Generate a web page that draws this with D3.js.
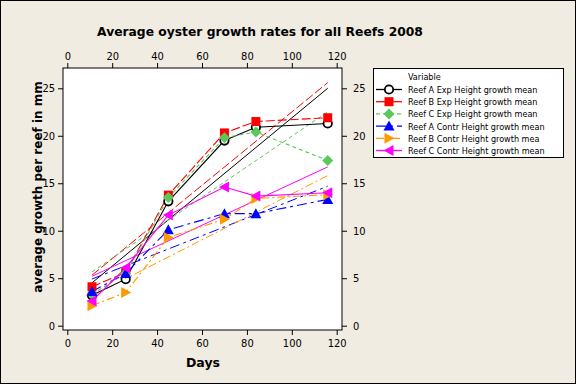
<!DOCTYPE html>
<html>
<head>
<meta charset="utf-8">
<script src="https://cdn.jsdelivr.net/npm/d3@7"></script>
<style>
  body { margin: 0; background: #f0ece2; }
  svg { display: block; }
  .tick text { font-family: "DejaVu Sans Condensed", "DejaVu Sans", sans-serif; font-size: 11px; fill: #000; }
</style>
</head>
<body>
<div id="chart"></div>
<script>
// data
const days = [11, 26, 45, 70, 84, 116];
const seriesNames = [
  "Reef A Exp Height growth mean",
  "Reef B Exp Height growth mean",
  "Reef C Exp Height growth mean",
  "Reef A Contr Height growth mean",
  "Reef B Contr Height growth mea",
  "Reef C Contr Height growth mean"
];
const reefAExp   = [3.2, 4.9, 13.1, 19.5, 20.9, 21.3];
const reefBExp   = [4.1, 5.6, 13.75, 20.3, 21.5, 21.9];
const reefCExp   = [3.3, 5.5, 13.5, 19.8, 20.4, 17.4];
const reefAContr = [3.6, 5.5, 10.1, 11.8, 11.8, 13.3];
const reefBContr = [2.1, 3.5, 9.3, 11.2, 13.4, 13.8];
const reefCContr = [2.6, 6.1, 11.65, 14.6, 13.65, 14.0];
const xTicks = [0, 20, 40, 60, 80, 100, 120];
const yTicks = [0, 5, 10, 15, 20, 25];

const width = 576, height = 384;
const frame = {left: 63, top: 68, right: 342, bottom: 330};

const svg = d3.select("#chart").append("svg")
  .attr("width", width)
  .attr("height", height);

// outer border
svg.append("rect")
  .attr("x", 0.5).attr("y", 0.5)
  .attr("width", width - 1).attr("height", height - 1)
  .attr("fill", "#f0ece2").attr("stroke", "#000");

const xScale = d3.scaleLinear().domain([0, 120]).range([67.3, 336.7]);
const yScale = d3.scaleLinear().domain([0, 25]).range([325.7, 88.3]);

// plot area
svg.append("rect")
  .attr("x", frame.left).attr("y", frame.top)
  .attr("width", frame.right - frame.left)
  .attr("height", frame.bottom - frame.top)
  .attr("fill", "#fff").attr("stroke", "#000");

// axes on all four sides
function styleAxis(g) {
  g.select(".domain").remove();
  g.selectAll(".tick line").attr("stroke", "#000");
}
svg.append("g")
  .attr("transform", `translate(0,${frame.bottom})`)
  .call(d3.axisBottom(xScale).tickValues(xTicks).tickSize(5).tickPadding(4))
  .call(styleAxis);
svg.append("g")
  .attr("transform", `translate(0,${frame.top})`)
  .call(d3.axisTop(xScale).tickValues(xTicks).tickSize(5).tickPadding(3))
  .call(styleAxis);
svg.append("g")
  .attr("transform", `translate(${frame.left},0)`)
  .call(d3.axisLeft(yScale).tickValues(yTicks).tickSize(5).tickPadding(3))
  .call(styleAxis);
svg.append("g")
  .attr("transform", `translate(${frame.right},0)`)
  .call(d3.axisRight(yScale).tickValues(yTicks).tickSize(5).tickPadding(6))
  .call(styleAxis);

const series = [
  {name: seriesNames[0], values: reefAExp,   color: "#000000", dash: null,       marker: "circle"},
  {name: seriesNames[1], values: reefBExp,   color: "#ff0000", dash: "9,3",      marker: "square"},
  {name: seriesNames[2], values: reefCExp,   color: "#5cc85c", dash: "4,3",      marker: "diamond"},
  {name: seriesNames[3], values: reefAContr, color: "#0000ff", dash: "10,4,3,4", marker: "triUp"},
  {name: seriesNames[4], values: reefBContr, color: "#ff9900", dash: "8,3,2,3",  marker: "triRight"},
  {name: seriesNames[5], values: reefCContr, color: "#ff00ff", dash: null,       marker: "triLeft"}
];

// least squares fit of each series
function fit(xs, ys) {
  const mx = d3.mean(xs), my = d3.mean(ys);
  const sxy = d3.sum(xs, (x, i) => (x - mx) * (ys[i] - my));
  const sxx = d3.sum(xs, x => (x - mx) * (x - mx));
  const b = sxy / sxx;
  return x => my + b * (x - mx);
}

const line = d3.line()
  .x(d => xScale(d[0]))
  .y(d => yScale(d[1]));

const plot = svg.append("g");

// fitted lines
series.forEach(s => {
  const f = fit(days, s.values);
  const x0 = d3.min(days), x1 = d3.max(days);
  plot.append("path")
    .attr("d", line([[x0, f(x0)], [x1, f(x1)]]))
    .attr("fill", "none")
    .attr("stroke", s.color)
    .attr("stroke-width", 1)
    .attr("stroke-dasharray", s.dash);
});

// connecting lines
series.forEach(s => {
  plot.append("path")
    .attr("d", line(days.map((d, i) => [d, s.values[i]])))
    .attr("fill", "none")
    .attr("stroke", s.color)
    .attr("stroke-width", 1.1)
    .attr("stroke-dasharray", s.dash);
});

function drawMarker(g, type, color, cx, cy) {
  if (type === "circle") {
    g.append("circle").attr("cx", cx).attr("cy", cy).attr("r", 4.2)
      .attr("fill", "#fff").attr("stroke", color).attr("stroke-width", 1.8);
  } else if (type === "square") {
    g.append("rect").attr("x", cx - 4.5).attr("y", cy - 4.5)
      .attr("width", 9).attr("height", 9).attr("fill", color);
  } else {
    let pts;
    if (type === "diamond") pts = [[0, -5.5], [5.5, 0], [0, 5.5], [-5.5, 0]];
    if (type === "triUp") pts = [[0, -5.5], [5.5, 4.5], [-5.5, 4.5]];
    if (type === "triRight") pts = [[5.5, 0], [-4.5, -5.5], [-4.5, 5.5]];
    if (type === "triLeft") pts = [[-5.5, 0], [4.5, -5.5], [4.5, 5.5]];
    g.append("polygon")
      .attr("points", pts.map(p => [cx + p[0], cy + p[1]].join(",")).join(" "))
      .attr("fill", color);
  }
}

series.forEach(s => {
  days.forEach((d, i) => drawMarker(plot, s.marker, s.color, xScale(d), yScale(s.values[i])));
});

// title and axis labels
svg.append("text")
  .attr("x", 260).attr("y", 36)
  .attr("text-anchor", "middle")
  .style("font-family", "DejaVu Sans, sans-serif")
  .style("font-weight", "bold")
  .style("font-size", "12.3px")
  .text("Average oyster growth rates for all Reefs 2008");

svg.append("text")
  .attr("x", 203).attr("y", 367)
  .attr("text-anchor", "middle")
  .style("font-family", "DejaVu Sans, sans-serif")
  .style("font-weight", "bold")
  .style("font-size", "12.5px")
  .text("Days");

svg.append("text")
  .attr("transform", "rotate(-90)")
  .attr("x", -187).attr("y", 42)
  .attr("text-anchor", "middle")
  .style("font-family", "DejaVu Sans, sans-serif")
  .style("font-weight", "bold")
  .style("font-size", "12px")
  .text("average growth per reef in mm");

// legend
const legend = svg.append("g");
legend.append("rect")
  .attr("x", 373.5).attr("y", 68.5)
  .attr("width", 190).attr("height", 89)
  .attr("fill", "#fff").attr("stroke", "#000");
const legendFont = "DejaVu Sans Condensed, DejaVu Sans, sans-serif";
legend.append("text")
  .attr("x", 408).attr("y", 80)
  .style("font-family", legendFont).style("font-size", "9px")
  .text("Variable");
series.forEach((s, i) => {
  const y = 89.5 + i * 12.2;
  legend.append("line")
    .attr("x1", 376).attr("x2", 402).attr("y1", y).attr("y2", y)
    .attr("stroke", s.color).attr("stroke-width", 1.3)
    .attr("stroke-dasharray", s.dash ? (s.marker === "square" ? null : s.dash) : null);
  drawMarker(legend, s.marker, s.color, 389, y);
  legend.append("text")
    .attr("x", 408).attr("y", y + 3.5)
    .style("font-family", legendFont).style("font-size", "9px")
    .text(s.name);
});
</script>
</body>
</html>
